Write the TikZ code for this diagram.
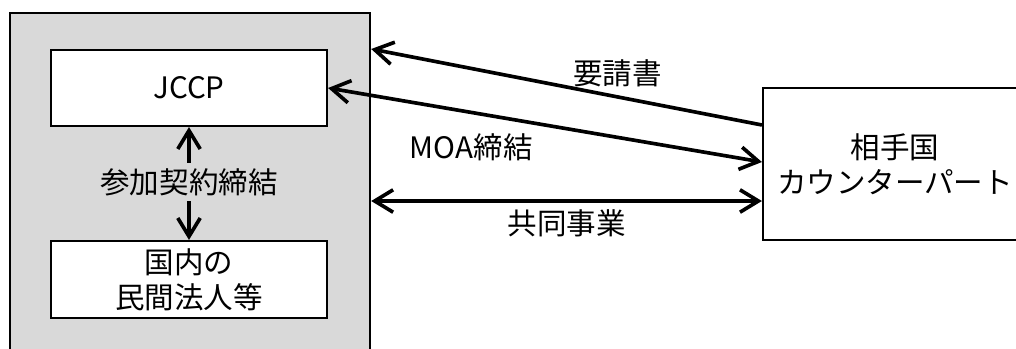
\documentclass[tikz,border=0pt]{standalone}
\usepackage{fontspec}
\setmainfont{Noto Sans CJK JP}
\usetikzlibrary{positioning,arrows.meta}
\tikzset{
  box/.style={draw, line width=1.5pt, fill=white, align=center, inner sep=0pt},
  lnk/.style={line width=2.6pt, -{Straight Barb[length=4.6mm,width=5.6mm]}},
  bilnk/.style={line width=2.6pt, {Straight Barb[length=4.6mm,width=5.6mm]}-{Straight Barb[length=4.6mm,width=5.6mm]}},
}
\begin{document}
\begin{tikzpicture}[x=0.025cm, y=-0.025cm, font=\fontsize{21}{24.8}\selectfont]
	\useasboundingbox (0,0) rectangle (1016,348);
	\clip (0,0) rectangle (1016,348);
	%% left side
	\node[box, fill=gray!30, minimum width=9cm, minimum height=10cm, anchor=north west] (home) at (9,12) {};
	\node[box, minimum width=6.9cm, minimum height=1.9cm] (jccp) at (189,88) {JCCP};
	\node[box, minimum width=6.9cm, minimum height=1.925cm] (firm) at (189,279.5) {国内の\\民間法人等};
	\node[inner sep=0pt, minimum height=0.95cm] (sanka) at (189,182) {参加契約締結};
	\draw[lnk] (sanka) -- (jccp);
	\draw[lnk] (sanka) -- (firm);
	%% right side
	\node[box, minimum width=6.6cm, minimum height=3.8cm] (partner) at (895,164) {相手国\\カウンターパート};
	% connectors between the two sides
	\coordinate (reqtip) at ([yshift=-0.925cm]home.north east);
	\coordinate (joint) at ([yshift=-0.925cm]partner.west);
	\draw[lnk] ([yshift=0.975cm]partner.west) -- node[pos=0.37, yshift=0.6cm] {要請書} (reqtip);
	\draw[bilnk] (jccp.east) -- node[pos=0.33, yshift=-0.88cm] {MOA締結} ([yshift=0.05cm]partner.west);
	\draw[bilnk] (home.east |- joint) -- node[midway, yshift=-0.55cm] {共同事業} (joint);
\end{tikzpicture}
\end{document}
